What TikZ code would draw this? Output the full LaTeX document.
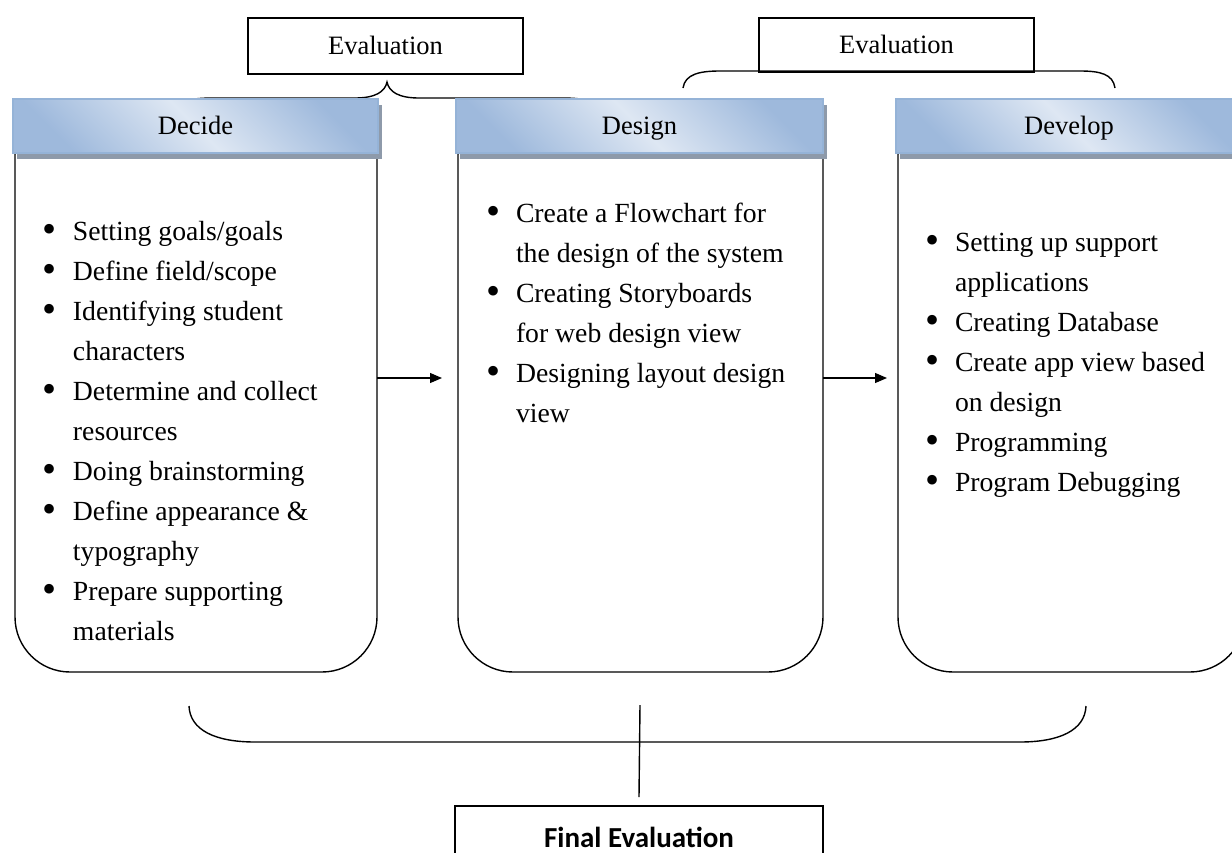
\documentclass[tikz,border=0pt]{standalone}
\usepackage{fontspec}
\usepackage{graphicx}
\setmainfont{Liberation Serif}
\newfontfamily\calibri{Carlito}
\usetikzlibrary{arrows.meta,shadows}

\definecolor{hdrdark}{RGB}{158,185,220}
\definecolor{hdrlight}{RGB}{222,231,243}
\definecolor{hdredge}{RGB}{149,179,215}
\definecolor{hdrshadow}{RGB}{142,154,170}

\newcommand{\itm}{\makebox[28pt][l]{\hspace*{-2pt}\raisebox{-0.1em}{\scalebox{1.45}{\textbullet}}}}
\newcommand{\cnt}{\hspace*{28pt}}

\begin{document}
\begin{tikzpicture}[
            x = 1pt, y = -1pt,
            every node/.style={outer sep=0pt},
            evalbox/.style={draw, line width=1.6pt, minimum width=275pt, inner sep=0pt,
                text height=20pt, text depth=4pt, font=\fontsize{26.5}{30}\selectfont},
            header/.style={draw=hdredge, line width=1.5pt, top color=hdrdark, bottom color=hdrdark, middle color=hdrlight, shading angle=-45,
                minimum height=54pt, inner sep=0pt, text height=20pt, text depth=4pt, font=\fontsize{26.5}{30}\selectfont,
                drop shadow={shadow xshift=4pt, shadow yshift=-6pt, fill=hdrshadow, opacity=1}},
            panel/.style={draw, line width=1.4pt, rounded corners=55pt, minimum height=572pt, inner sep=0pt},
            entry/.style={anchor=base west, inner sep=0pt, font=\fontsize{27.7}{40}\selectfont},
            brace/.style={line width=1.4pt},
            flow/.style={line width=1.2pt, -{Triangle[length=12pt, width=10pt]}},
            ]

        \clip (0,0) rectangle (1232,852);

        % braces under the evaluation boxes
        \draw[brace] (180,112) .. controls (182,100) and (190,98) .. (215,98) -- (355,98)
            .. controls (375,98) and (385,92) .. (387,82)
            .. controls (389,92) and (399,98) .. (419,98) -- (560,98)
            .. controls (585,98) and (593,100) .. (595,112);
        \draw[brace] (683,88) .. controls (685,74) and (700,71) .. (720,71) -- (1080,71)
            .. controls (1100,71) and (1113,74) .. (1115,88);

        % the three phases
        \node[panel, minimum width=362pt] (decide) at (196,386) {};
        \node[panel, minimum width=365pt] (design) at (640.5,386) {};
        \node[panel, minimum width=347pt] (develop) at (1071.5,386) {};

        \node[header, minimum width=365pt] (hdecide) at (195.5,126) {Decide};
        \node[header, minimum width=367pt] (hdesign) at (639.5,126) {Design};
        \node[header, minimum width=346pt] (hdevelop) at (1069,126) {Develop};

        \node[evalbox, minimum height=56pt] (eval1) at (385.5,46) {Evaluation};
        \node[evalbox, minimum height=54pt] (eval2) at (896.5,45) {Evaluation};

        \foreach \txt [count=\i] in {\itm Setting goals/goals, \itm Define field/scope,
                \itm Identifying student, \cnt characters, \itm Determine and collect,
                \cnt resources, \itm Doing brainstorming, \itm Define appearance \&,
                \cnt typography, \itm Prepare supporting, \cnt materials}
            \node[entry] (dec\i) at (45,200+40*\i) {\txt};

        \foreach \txt [count=\i] in {\itm Create a Flowchart for, \cnt the design of the system,
                \itm Creating Storyboards, \cnt for web design view,
                \itm Designing layout design, \cnt view}
            \node[entry] (des\i) at (488,182+40*\i) {\txt};

        \foreach \txt [count=\i] in {\itm Setting up support, \cnt applications,
                \itm Creating Database, \itm Create app view based, \cnt on design,
                \itm Programming, \itm Program Debugging}
            \node[entry] (dev\i) at (927,211+40*\i) {\txt};

        \draw[flow] ([yshift=8pt]decide.east) -- ([xshift=-16pt,yshift=8pt]design.west);
        \draw[flow] ([yshift=8pt]design.east) -- ([xshift=-11pt,yshift=8pt]develop.west);

        % final evaluation
        \node[draw, line width=1.6pt, minimum width=368pt, minimum height=62pt,
            font=\calibri\bfseries\fontsize{29}{32}\selectfont] (final) at (639,837) {Final Evaluation};
        \coordinate (hub) at (640,705);

        \draw[brace] (189,706) .. controls (190,730) and (215,742) .. (255,742) -- (1020,742)
            .. controls (1060,742) and (1085,730) .. (1086,706);
        \draw[brace] (hub) -- ([yshift=9pt]final.north);
    \end{tikzpicture}
\end{document}
